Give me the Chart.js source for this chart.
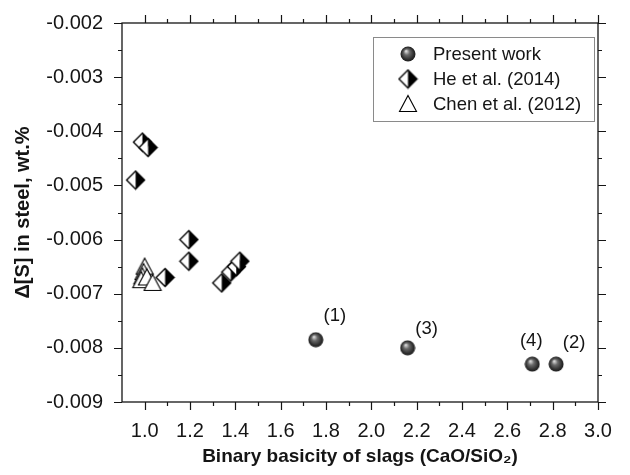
<!DOCTYPE html>
<html>
<head>
<meta charset="utf-8">
<script src="https://cdn.jsdelivr.net/npm/chart.js@4"></script>
<style>
  html, body { margin: 0; padding: 0; background: #fff; }
  #wrap { width: 630px; height: 475px; }
</style>
</head>
<body>
<div id="wrap"><canvas id="chart" width="630" height="475"></canvas></div>
<script>
// ---------------- data ----------------
const seriesNames = ["Present work", "He et al. (2014)", "Chen et al. (2012)"];

const presentX = [1.755, 2.815, 2.16, 2.71];
const presentY = [-0.00785, -0.0083, -0.0080, -0.0083];
const presentTags = ["(1)", "(2)", "(3)", "(4)"];

const heX = [0.99, 1.015, 0.96, 1.195, 1.195, 1.09, 1.34, 1.38, 1.405, 1.42];
const heY = [-0.0042, -0.0043, -0.0049, -0.0060, -0.0064, -0.0067, -0.0068, -0.0066, -0.0065, -0.0064];

const chenX = [1.00, 0.995, 0.99, 0.985, 1.01, 1.035];
const chenY = [-0.0065, -0.0066, -0.00668, -0.00675, -0.0067, -0.0068];

const xTicks = [1.0, 1.2, 1.4, 1.6, 1.8, 2.0, 2.2, 2.4, 2.6, 2.8, 3.0];
const yTicks = [-0.009, -0.008, -0.007, -0.006, -0.005, -0.004, -0.003, -0.002];

const xTitle = "Binary basicity of slags (CaO/SiO\u2082)";
const yTitle = "\u0394[S] in steel, wt.%";

// ---------------- marker images ----------------
const FONT = "'Liberation Sans', Arial, sans-serif";
const INK = "#151515";

function makeSphere(d) {
  const c = document.createElement("canvas");
  c.width = d; c.height = d;
  const g = c.getContext("2d");
  const r = d / 2 - 0.5;
  const grad = g.createRadialGradient(d * 0.38, d * 0.32, 0.5, d / 2, d / 2, r);
  grad.addColorStop(0, "#d8d8d8");
  grad.addColorStop(0.35, "#6a6a6a");
  grad.addColorStop(0.8, "#2e2e2e");
  grad.addColorStop(1, "#1c1c1c");
  g.fillStyle = grad;
  g.beginPath();
  g.arc(d / 2, d / 2, r, 0, Math.PI * 2);
  g.fill();
  return c;
}

function makeHalfDiamond(d) {
  const c = document.createElement("canvas");
  c.width = d; c.height = d;
  const g = c.getContext("2d");
  const m = d / 2, h = d / 2 - 1.5;
  g.fillStyle = "#fff";
  g.beginPath();
  g.moveTo(m, m - h); g.lineTo(m - h, m); g.lineTo(m, m + h); g.closePath();
  g.fill();
  g.fillStyle = "#000";
  g.beginPath();
  g.moveTo(m, m - h); g.lineTo(m + h, m); g.lineTo(m, m + h); g.closePath();
  g.fill();
  g.strokeStyle = "#000";
  g.lineWidth = 1.4;
  g.beginPath();
  g.moveTo(m, m - h); g.lineTo(m + h, m); g.lineTo(m, m + h); g.lineTo(m - h, m); g.closePath();
  g.stroke();
  return c;
}

function makeTriangle(d) {
  const c = document.createElement("canvas");
  c.width = d; c.height = d;
  const g = c.getContext("2d");
  g.fillStyle = "#fff";
  g.strokeStyle = "#000";
  g.lineWidth = 1.1;
  g.beginPath();
  g.moveTo(d / 2, 1.5);
  g.lineTo(d - 1.5, d - 2.5);
  g.lineTo(1.5, d - 2.5);
  g.closePath();
  g.fill();
  g.stroke();
  return c;
}

const sphereImg = makeSphere(16);
const diamondImg = makeHalfDiamond(21);
const triangleImg = makeTriangle(20);
const legendImgs = [sphereImg, diamondImg, triangleImg];

const toPoints = (xs, ys) => xs.map((x, i) => ({ x: x, y: ys[i] }));

// ---------------- frame, minor ticks, tags, legend ----------------
const framePlugin = {
  id: "frame",
  beforeDatasetsDraw(chart) {
    const { ctx, chartArea: a, scales } = chart;
    const xs = scales.x, ys = scales.y;
    ctx.save();
    ctx.strokeStyle = INK;
    ctx.lineWidth = 1.3;
    ctx.strokeRect(a.left, a.top, a.right - a.left, a.bottom - a.top);
    ctx.lineWidth = 1.2;
    ctx.beginPath();
    for (let k = 1; k <= 21; k++) {
      const v = 0.9 + k * 0.1;
      const px = Math.round(xs.getPixelForValue(v)) + 0.5;
      const len = k % 2 === 1 ? 8 : 4;
      ctx.moveTo(px, a.bottom); ctx.lineTo(px, a.bottom + len);
      ctx.moveTo(px, a.top); ctx.lineTo(px, a.top - len);
    }
    for (let k = 0; k <= 14; k++) {
      const v = -0.009 + k * 0.0005;
      const py = Math.round(ys.getPixelForValue(v)) + 0.5;
      const len = k % 2 === 0 ? 8 : 4;
      ctx.moveTo(a.left, py); ctx.lineTo(a.left - len, py);
      ctx.moveTo(a.right, py); ctx.lineTo(a.right + len, py);
    }
    ctx.stroke();
    ctx.restore();
  },
  afterDraw(chart) {
    const { ctx, scales } = chart;
    ctx.save();
    // point tags (1)..(4)
    const tagOffsets = [[19, -24], [18, -21], [19, -19], [-1, -23]];
    ctx.font = "18.5px " + FONT;
    ctx.fillStyle = INK;
    ctx.textAlign = "center";
    ctx.textBaseline = "middle";
    presentTags.forEach((t, i) => {
      const px = scales.x.getPixelForValue(presentX[i]);
      const py = scales.y.getPixelForValue(presentY[i]);
      ctx.fillText(t, px + tagOffsets[i][0], py + tagOffsets[i][1]);
    });
    // legend box
    const bx = 373, by = 37, bw = 221, bh = 84;
    ctx.strokeStyle = "#8a8a8a";
    ctx.lineWidth = 1;
    ctx.fillStyle = "#fff";
    ctx.fillRect(bx, by, bw, bh);
    ctx.strokeRect(bx + 0.5, by + 0.5, bw, bh);
    ctx.textAlign = "left";
    ctx.fillStyle = INK;
    seriesNames.forEach((name, i) => {
      const cy = by + 17 + i * 25;
      const img = legendImgs[i];
      ctx.drawImage(img, 408 - img.width / 2, cy - img.height / 2);
      ctx.fillText(name, 433, cy + 1);
    });
    ctx.restore();
  }
};

// ---------------- chart ----------------
new Chart(document.getElementById("chart"), {
  type: "scatter",
  data: {
    datasets: [
      { label: seriesNames[0], data: toPoints(presentX, presentY), pointStyle: sphereImg },
      { label: seriesNames[1], data: toPoints(heX, heY), pointStyle: diamondImg },
      { label: seriesNames[2], data: toPoints(chenX, chenY), pointStyle: triangleImg }
    ]
  },
  options: {
    responsive: false,
    animation: false,
    devicePixelRatio: 1,
    clip: false,
    layout: { padding: { left: 0, right: 32, top: 20, bottom: 0 } },
    plugins: { legend: { display: false }, tooltip: { enabled: false } },
    scales: {
      x: {
        type: "linear",
        min: 0.9,
        max: 3.0,
        grid: { display: false },
        border: { display: false },
        afterBuildTicks: (s) => { s.ticks = xTicks.map(v => ({ value: v })); },
        afterFit: (s) => { s.height = 73; },
        ticks: {
          color: INK,
          font: { family: FONT, size: 20 },
          padding: 9,
          maxRotation: 0,
          callback: (v) => Number(v).toFixed(1)
        },
        title: {
          display: true,
          text: xTitle,
          color: INK,
          font: { family: FONT, size: 19, weight: "bold" },
          padding: { top: 4, bottom: 7 }
        }
      },
      y: {
        type: "linear",
        min: -0.009,
        max: -0.002,
        grid: { display: false },
        border: { display: false },
        afterBuildTicks: (s) => { s.ticks = yTicks.map(v => ({ value: v })); },
        afterFit: (s) => { s.width = 122; },
        ticks: {
          color: INK,
          font: { family: FONT, size: 20 },
          padding: 11,
          callback: (v) => Number(v).toFixed(3)
        },
        title: {
          display: true,
          text: yTitle,
          color: INK,
          font: { family: FONT, size: 20, weight: "bold" },
          padding: { top: 11, bottom: 0 }
        }
      }
    }
  },
  plugins: [framePlugin]
});
</script>
</body>
</html>
